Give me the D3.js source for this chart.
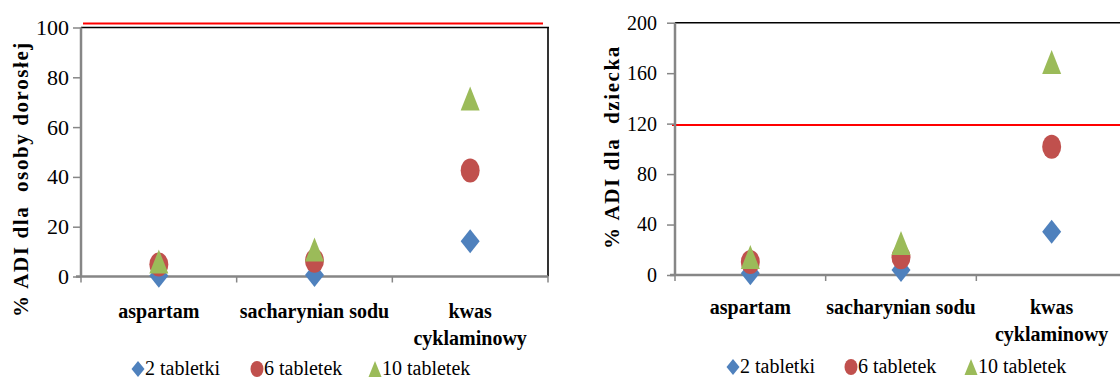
<!DOCTYPE html>
<html>
<head>
<meta charset="utf-8">
<script src="https://cdn.jsdelivr.net/npm/d3@7"></script>
<style>
  body { margin: 0; background: #fff; }
  svg { display: block; }
  svg text { font-family: 'Liberation Serif', 'Times New Roman', Tinos, 'DejaVu Serif', serif !important; }
</style>
</head>
<body>
<svg id="chart" width="1120" height="380"></svg>
<script>
// ---- data ----
const categories = ["aspartam", "sacharynian sodu", "kwas cyklaminowy"];
const seriesNames = ["2 tabletki", "6 tabletek", "10 tabletek"];
const seriesColors = ["#4f81bd", "#c0504d", "#9bbb59"];
const seriesShapes = ["diamond", "circle", "triangle"];

const adult2 = [0.3, 0.6, 14.2];
const adult6 = [4.8, 6.3, 42.6];
const adult10 = [6.0, 10.8, 71.5];
const adultLimit = 101.6;
const adultTicks = [0, 20, 40, 60, 80, 100];
const adultTitle = "% ADI dla  osoby dorosłej";

const child2 = [1.3, 4.0, 34.3];
const child6 = [10.3, 14.1, 101.7];
const child10 = [14.3, 25.4, 168.8];
const childLimit = 119;
const childTicks = [0, 40, 80, 120, 160, 200];
const childTitle = "% ADI dla  dziecka";

const FONT = "'Liberation Serif', 'Times New Roman', Tinos, 'DejaVu Serif', serif";
const svg = d3.select("#chart").attr("font-family", FONT);
const AXIS = "#868686";

function markerPath(shape, w, h) {
  const a = w / 2, b = h / 2;
  if (shape === "diamond") return `M0,${-b}L${a},0L0,${b}L${-a},0Z`;
  if (shape === "triangle") return `M0,${-b}L${a},${b}L${-a},${b}Z`;
  return null;
}
function drawMarker(g, shape, color, x, y, w, h) {
  if (shape === "circle") {
    g.append("ellipse").attr("cx", x).attr("cy", y).attr("rx", w / 2).attr("ry", h / 2).attr("fill", color);
  } else {
    g.append("path").attr("d", markerPath(shape, w, h)).attr("transform", `translate(${x},${y})`).attr("fill", color);
  }
}

function drawChart(cfg) {
  const g = svg.append("g");
  const x = d3.scaleBand().domain(categories).range([cfg.x0, cfg.x1]);
  const y = d3.scaleLinear().domain([0, cfg.max]).range([cfg.yb, cfg.yt]);

  // plot border top & right (black)
  g.append("line").attr("x1", cfg.x0).attr("x2", cfg.x1 + 1).attr("y1", y(cfg.max)).attr("y2", y(cfg.max))
    .attr("stroke", "#000").attr("stroke-width", 1.6);
  g.append("line").attr("x1", cfg.x1).attr("x2", cfg.x1).attr("y1", y(cfg.max)).attr("y2", y(0))
    .attr("stroke", "#000").attr("stroke-width", 1.6);

  // limit line (red)
  g.append("line").attr("x1", cfg.redX0).attr("x2", cfg.redX1)
    .attr("y1", y(cfg.limit)).attr("y2", y(cfg.limit))
    .attr("stroke", "#ff0000").attr("stroke-width", 2);

  // y axis
  const ya = d3.axisLeft(y).tickValues(cfg.ticks).tickSize(cfg.tickLen).tickPadding(cfg.tickPad).tickFormat(d3.format("d"));
  const yg = g.append("g").attr("transform", `translate(${cfg.x0},0)`).call(ya).attr("font-family", FONT);
  yg.select(".domain").attr("stroke", AXIS).attr("stroke-width", 2.5).attr("d", `M0,${y(cfg.max)}V${y(0)}`);
  yg.selectAll(".tick line").attr("stroke", AXIS).attr("stroke-width", 1.5);
  yg.selectAll(".tick text").attr("fill", "#000").style("font-size", cfg.tickFont + "px");

  // x axis
  const boundaries = [0, 1, 2, 3].map(i => cfg.x0 + i * x.step());
  g.append("line").attr("x1", cfg.x0 - 5).attr("x2", cfg.x1).attr("y1", y(0)).attr("y2", y(0))
    .attr("stroke", AXIS).attr("stroke-width", 2.5);
  g.selectAll(".xt").data(boundaries).enter().append("line")
    .attr("x1", d => d).attr("x2", d => d).attr("y1", y(0)).attr("y2", y(0) + 6)
    .attr("stroke", AXIS).attr("stroke-width", 1.5);

  // category labels
  categories.forEach(c => {
    const words = c === "kwas cyklaminowy" ? ["kwas", "cyklaminowy"] : [c];
    const t = g.append("text").attr("x", x(c) + x.bandwidth() / 2).attr("y", cfg.catY)
      .attr("text-anchor", "middle").style("font-size", "20px").style("font-weight", "bold");
    words.forEach((w, i) => t.append("tspan").attr("x", x(c) + x.bandwidth() / 2).attr("dy", i === 0 ? 0 : 27).text(w));
  });

  // y title
  g.append("text").attr("transform", `translate(${cfg.titleX},${cfg.titleY}) rotate(-90)`)
    .attr("text-anchor", "middle").style("font-size", "21px").style("font-weight", "bold")
    .style("letter-spacing", "1.6px").style("white-space", "pre").text(cfg.title);

  // points
  const mg = g.append("g");
  cfg.series.forEach((vals, si) => {
    vals.forEach((v, ci) => {
      drawMarker(mg, seriesShapes[si], seriesColors[si], x(categories[ci]) + x.bandwidth() / 2, y(v), 19, 24);
    });
  });

  // legend
  const lg = g.append("g");
  seriesNames.forEach((n, si) => {
    drawMarker(lg, seriesShapes[si], seriesColors[si], cfg.legX[si], cfg.legY, 13, 16);
    lg.append("text").attr("x", cfg.legX[si] + 7).attr("y", cfg.legY + 6).style("font-size", "20px").text(n);
  });
}

drawChart({
  x0: 81, x1: 548, yt: 27.5, yb: 276.5, max: 100, ticks: adultTicks, limit: adultLimit,
  redX0: 83, redX1: 543, tickLen: 8, tickPad: 4, tickFont: 22,
  catY: 318, title: adultTitle, titleX: 27.5, titleY: 179,
  series: [adult2, adult6, adult10], legX: [138, 257, 375], legY: 369
});
drawChart({
  x0: 675, x1: 1127, yt: 22.7, yb: 275, max: 200, ticks: childTicks, limit: childLimit,
  redX0: 672, redX1: 1120, tickLen: 8, tickPad: 10, tickFont: 20,
  catY: 314, title: childTitle, titleX: 619, titleY: 147,
  series: [child2, child6, child10], legX: [733, 851, 971], legY: 367
});
</script>
</body>
</html>
